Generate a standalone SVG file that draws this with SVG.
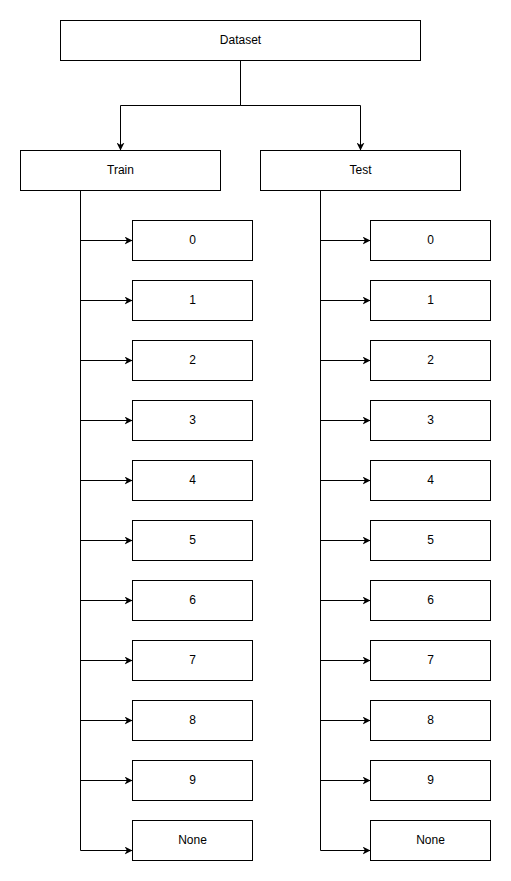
<svg xmlns="http://www.w3.org/2000/svg" width="511" height="881" viewBox="0 0 511 881">
<defs>
<style>
.box{fill:#fff;stroke:#000;stroke-width:1}
.lbl{font-family:"Liberation Sans",Arial,sans-serif;font-size:12px;fill:#000;text-anchor:middle}
.edge{fill:none;stroke:#000;stroke-width:1}
</style>
<marker id="arr" viewBox="0 0 10 10" refX="10" refY="5" markerWidth="8" markerHeight="8" markerUnits="userSpaceOnUse" orient="auto">
<path d="M0 0 L10 5 L0 10 L3 5 Z" fill="#000"/>
</marker>
</defs>
<rect width="511" height="881" fill="#fff"/>
<g id="connectors">
<path class="edge" d="M240.5 60.5 V105.5 H120.5 V150.5" marker-end="url(#arr)"/>
<path class="edge" d="M240.5 60.5 V105.5 H360.5 V150.5" marker-end="url(#arr)"/>
<path class="edge" d="M80.5 190.5 V240.5 H132.5" marker-end="url(#arr)"/>
<path class="edge" d="M80.5 190.5 V300.5 H132.5" marker-end="url(#arr)"/>
<path class="edge" d="M80.5 190.5 V360.5 H132.5" marker-end="url(#arr)"/>
<path class="edge" d="M80.5 190.5 V420.5 H132.5" marker-end="url(#arr)"/>
<path class="edge" d="M80.5 190.5 V480.5 H132.5" marker-end="url(#arr)"/>
<path class="edge" d="M80.5 190.5 V540.5 H132.5" marker-end="url(#arr)"/>
<path class="edge" d="M80.5 190.5 V600.5 H132.5" marker-end="url(#arr)"/>
<path class="edge" d="M80.5 190.5 V660.5 H132.5" marker-end="url(#arr)"/>
<path class="edge" d="M80.5 190.5 V720.5 H132.5" marker-end="url(#arr)"/>
<path class="edge" d="M80.5 190.5 V780.5 H132.5" marker-end="url(#arr)"/>
<path class="edge" d="M80.5 190.5 V850.5 H132.5" marker-end="url(#arr)"/>
<path class="edge" d="M320.5 190.5 V240.5 H370.5" marker-end="url(#arr)"/>
<path class="edge" d="M320.5 190.5 V300.5 H370.5" marker-end="url(#arr)"/>
<path class="edge" d="M320.5 190.5 V360.5 H370.5" marker-end="url(#arr)"/>
<path class="edge" d="M320.5 190.5 V420.5 H370.5" marker-end="url(#arr)"/>
<path class="edge" d="M320.5 190.5 V480.5 H370.5" marker-end="url(#arr)"/>
<path class="edge" d="M320.5 190.5 V540.5 H370.5" marker-end="url(#arr)"/>
<path class="edge" d="M320.5 190.5 V600.5 H370.5" marker-end="url(#arr)"/>
<path class="edge" d="M320.5 190.5 V660.5 H370.5" marker-end="url(#arr)"/>
<path class="edge" d="M320.5 190.5 V720.5 H370.5" marker-end="url(#arr)"/>
<path class="edge" d="M320.5 190.5 V780.5 H370.5" marker-end="url(#arr)"/>
<path class="edge" d="M320.5 190.5 V850.5 H370.5" marker-end="url(#arr)"/>
</g>
<g id="dataset"><rect class="box" x="60.5" y="20.5" width="360" height="40"/><text class="lbl" x="240.5" y="44">Dataset</text></g>
<g id="train"><rect class="box" x="20.5" y="150.5" width="200" height="40"/><text class="lbl" x="120.5" y="174">Train</text></g>
<g id="test"><rect class="box" x="260.5" y="150.5" width="200" height="40"/><text class="lbl" x="360.5" y="174">Test</text></g>
<g id="train-0"><rect class="box" x="132.5" y="220.5" width="120" height="40"/><text class="lbl" x="192.5" y="244">0</text></g>
<g id="train-1"><rect class="box" x="132.5" y="280.5" width="120" height="40"/><text class="lbl" x="192.5" y="304">1</text></g>
<g id="train-2"><rect class="box" x="132.5" y="340.5" width="120" height="40"/><text class="lbl" x="192.5" y="364">2</text></g>
<g id="train-3"><rect class="box" x="132.5" y="400.5" width="120" height="40"/><text class="lbl" x="192.5" y="424">3</text></g>
<g id="train-4"><rect class="box" x="132.5" y="460.5" width="120" height="40"/><text class="lbl" x="192.5" y="484">4</text></g>
<g id="train-5"><rect class="box" x="132.5" y="520.5" width="120" height="40"/><text class="lbl" x="192.5" y="544">5</text></g>
<g id="train-6"><rect class="box" x="132.5" y="580.5" width="120" height="40"/><text class="lbl" x="192.5" y="604">6</text></g>
<g id="train-7"><rect class="box" x="132.5" y="640.5" width="120" height="40"/><text class="lbl" x="192.5" y="664">7</text></g>
<g id="train-8"><rect class="box" x="132.5" y="700.5" width="120" height="40"/><text class="lbl" x="192.5" y="724">8</text></g>
<g id="train-9"><rect class="box" x="132.5" y="760.5" width="120" height="40"/><text class="lbl" x="192.5" y="784">9</text></g>
<g id="train-none"><rect class="box" x="132.5" y="820.5" width="120" height="40"/><text class="lbl" x="192.5" y="844">None</text></g>
<g id="test-0"><rect class="box" x="370.5" y="220.5" width="120" height="40"/><text class="lbl" x="430.5" y="244">0</text></g>
<g id="test-1"><rect class="box" x="370.5" y="280.5" width="120" height="40"/><text class="lbl" x="430.5" y="304">1</text></g>
<g id="test-2"><rect class="box" x="370.5" y="340.5" width="120" height="40"/><text class="lbl" x="430.5" y="364">2</text></g>
<g id="test-3"><rect class="box" x="370.5" y="400.5" width="120" height="40"/><text class="lbl" x="430.5" y="424">3</text></g>
<g id="test-4"><rect class="box" x="370.5" y="460.5" width="120" height="40"/><text class="lbl" x="430.5" y="484">4</text></g>
<g id="test-5"><rect class="box" x="370.5" y="520.5" width="120" height="40"/><text class="lbl" x="430.5" y="544">5</text></g>
<g id="test-6"><rect class="box" x="370.5" y="580.5" width="120" height="40"/><text class="lbl" x="430.5" y="604">6</text></g>
<g id="test-7"><rect class="box" x="370.5" y="640.5" width="120" height="40"/><text class="lbl" x="430.5" y="664">7</text></g>
<g id="test-8"><rect class="box" x="370.5" y="700.5" width="120" height="40"/><text class="lbl" x="430.5" y="724">8</text></g>
<g id="test-9"><rect class="box" x="370.5" y="760.5" width="120" height="40"/><text class="lbl" x="430.5" y="784">9</text></g>
<g id="test-none"><rect class="box" x="370.5" y="820.5" width="120" height="40"/><text class="lbl" x="430.5" y="844">None</text></g>
</svg>
